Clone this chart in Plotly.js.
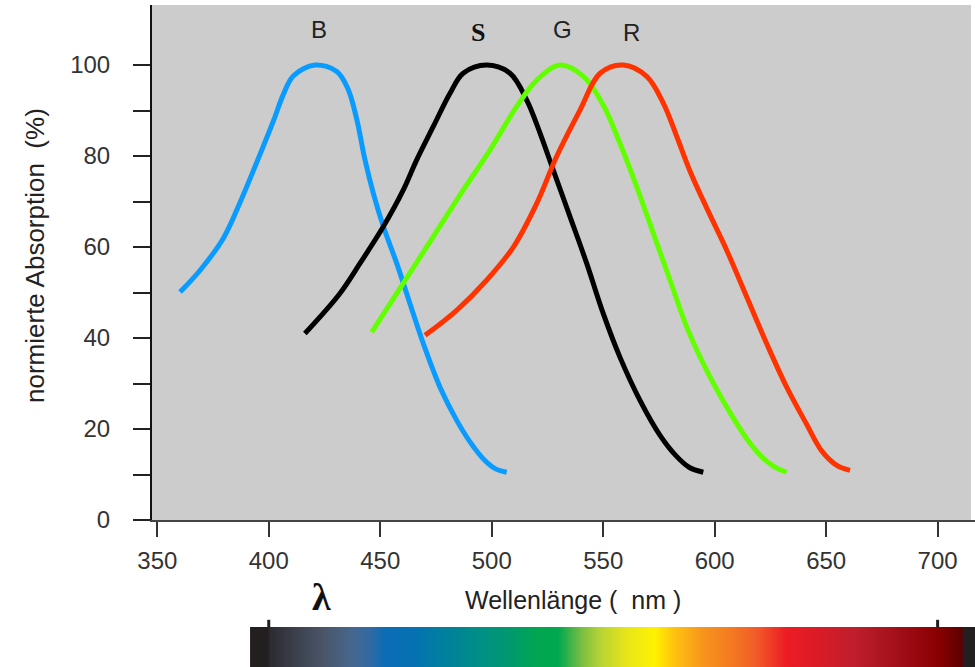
<!DOCTYPE html>
<html>
<head>
<meta charset="utf-8">
<script src="https://cdn.plot.ly/plotly-3.0.1.min.js"></script>
<style>html,body{margin:0;padding:0;background:#fff;}#chart{width:975px;height:667px;}</style>
</head>
<body>
<div id="chart"></div>
<script>
// ---- Data ----
const blueNm  = [360.2, 369.2, 379.7, 387.1, 394.6, 402.0, 406.5, 411.0, 420.7, 430.5, 435.5, 439.5, 443.0, 446.9, 451.4, 457.4, 463.3, 469.3, 476.8, 484.3, 490.5, 496.5, 501.5, 506.7];
const blueVal = [50.1, 54.9, 62.0, 69.8, 78.6, 87.6, 93.5, 97.6, 100.0, 98.6, 94.8, 88.0, 79.5, 71.8, 64.5, 56.4, 47.6, 38.8, 29.2, 21.9, 17.0, 13.3, 11.3, 10.5];

const blackNm  = [416.2, 431.9, 440.9, 451.4, 460.3, 466.3, 473.8, 481.3, 487.2, 497.7, 508.2, 515.7, 521.7, 527.6, 535.1, 542.6, 550.0, 557.5, 566.5, 575.5, 582.5, 588.5, 594.9];
const blackVal = [41.0, 49.8, 56.4, 64.5, 72.5, 79.1, 86.5, 93.8, 98.2, 100.0, 98.2, 92.3, 85.0, 76.9, 66.7, 56.4, 45.4, 35.8, 26.3, 18.6, 14.2, 11.6, 10.5];

const greenNm  = [446.2, 460.3, 473.8, 487.2, 499.2, 511.2, 520.2, 530.6, 541.1, 550.0, 557.5, 565.0, 572.5, 580.0, 587.5, 596.4, 606.9, 614.5, 620.5, 626.5, 632.3];
const greenVal = [41.3, 52.0, 62.3, 72.5, 81.3, 90.9, 96.7, 100.0, 97.5, 91.2, 82.8, 73.3, 63.0, 52.7, 42.4, 32.9, 23.6, 17.8, 14.2, 11.8, 10.5];

const redNm  = [470.1, 484.3, 497.7, 509.7, 520.2, 529.1, 539.6, 548.6, 559.0, 569.5, 577.0, 583.0, 589.0, 596.4, 605.4, 614.4, 623.3, 632.3, 641.3, 648.0, 654.8, 660.7];
const redVal = [40.6, 46.1, 52.7, 60.0, 69.6, 79.9, 90.1, 98.2, 100.0, 97.5, 91.6, 84.3, 76.6, 68.6, 59.3, 49.0, 38.8, 29.2, 21.0, 15.2, 12.0, 10.9];

const curveLabels = ['B', 'S', 'G', 'R'];
const xTickVals = [350, 400, 450, 500, 550, 600, 650, 700];
const yTickVals = [0, 10, 20, 30, 40, 50, 60, 70, 80, 90, 100];
const yTickText = ['0', '', '20', '', '40', '', '60', '', '80', '', '100'];

// spectrum strip below the axis (wavelength -> colour)
const spectrumNm = [391.6, 399.5, 400.5, 412, 425, 438, 446, 452, 465, 478, 495, 510, 520, 530, 540, 548, 560, 573, 582, 595, 607, 619, 632, 645, 663, 684, 700, 711, 711.5, 716.8];
const spectrumColors = ['#231f20', '#231f20', '#2b2a30', '#3c404c', '#4b5669', '#456890', '#2f6aa3', '#0b6db6', '#0671b2', '#007f9f', '#008f86', '#009b6a', '#00a651', '#00a84f', '#76bd43', '#b3d235', '#e6e51a', '#fff200', '#fec20e', '#f7941d', '#f47b20', '#f15a29', '#ed1c24', '#dc1b26', '#be1e2d', '#a00d16', '#8a0000', '#5e0000', '#231f20', '#231f20'];
const spectrumTicks = [400, 700];

// ---- Build ----
const sMin = spectrumNm[0], sMax = spectrumNm[spectrumNm.length - 1];
const spectrumScale = spectrumNm.map((v, i) => [(v - sMin) / (sMax - sMin), spectrumColors[i]]);

function curve(x, y, color) {
  return {x: x, y: y, type: 'scatter', mode: 'lines',
          line: {color: color, width: 5, shape: 'spline', smoothing: 1},
          hoverinfo: 'skip', showlegend: false, xaxis: 'x', yaxis: 'y'};
}

const traces = [
  curve(blueNm, blueVal, '#0a9bff'),
  curve(blackNm, blackVal, '#000000'),
  curve(greenNm, greenVal, '#62ff00'),
  curve(redNm, redVal, '#ff3300'),
  {
    x: [sMin, sMax, sMax, sMin, sMin], y: [0, 0, 1, 1, 0],
    type: 'scatter', mode: 'lines', fill: 'toself',
    line: {width: 0, color: 'rgba(0,0,0,0)'},
    fillgradient: {type: 'horizontal', colorscale: spectrumScale},
    hoverinfo: 'skip', showlegend: false, xaxis: 'x', yaxis: 'y2'
  }
];

const W = 975, H = 667, ML = 152, MR = 0, MT = 5, MB = 0;
const pw = W - ML - MR, ph = H - MT - MB;
const px = v => (v - ML) / pw;
const py = v => (H - MB - v) / ph;

const labelPos = [[319, 30], [478, 33], [562, 30], [631, 32]];
const labelFonts = [
  {family: 'Liberation Sans, Arial, sans-serif', size: 24, color: '#222'},
  {family: 'Liberation Serif, Times New Roman, serif', size: 26, color: '#111', weight: 'bold'},
  {family: 'Liberation Sans, Arial, sans-serif', size: 24, color: '#222'},
  {family: 'Liberation Sans, Arial, sans-serif', size: 24, color: '#222'}
];

const annotations = curveLabels.map((t, i) => ({
  text: t, xref: 'paper', yref: 'paper', x: px(labelPos[i][0]), y: py(labelPos[i][1]),
  xanchor: 'center', yanchor: 'middle', showarrow: false, font: labelFonts[i]
}));
annotations.push({
  text: 'normierte Absorption\u00a0\u00a0(%)', xref: 'paper', yref: 'paper',
  x: px(35), y: py(256), xanchor: 'center', yanchor: 'middle', textangle: -90,
  showarrow: false, font: {family: 'Liberation Sans, Arial, sans-serif', size: 26, color: '#222'}
});
annotations.push({
  text: 'Wellenlänge (\u00a0\u00a0nm )', xref: 'paper', yref: 'paper',
  x: px(573), y: py(600), xanchor: 'center', yanchor: 'middle',
  showarrow: false, font: {family: 'Liberation Sans, Arial, sans-serif', size: 25, color: '#222'}
});
annotations.push({
  text: 'λ', xref: 'paper', yref: 'paper',
  x: px(321), y: py(597), xanchor: 'center', yanchor: 'middle',
  showarrow: false, font: {family: 'Liberation Serif, DejaVu Serif, serif', size: 38, color: '#111', weight: 'bold'}
});

const shapes = [
  {type: 'rect', xref: 'paper', yref: 'y domain', x0: 0, x1: px(971), y0: 0, y1: 1,
   fillcolor: '#cccccc', line: {width: 0}, layer: 'below'}
].concat(spectrumTicks.map(v => ({
  type: 'line', xref: 'x', yref: 'y2 domain', x0: v, x1: v, y0: 1, y1: 1.18,
  line: {color: '#231f20', width: 3}
})));

const xStart = 350 - (157.3 - ML) / 2.2295;
const xEnd = xStart + pw / 2.2295;

const layout = {
  width: W, height: H,
  margin: {l: ML, r: MR, t: MT, b: MB, pad: 0},
  paper_bgcolor: '#ffffff', plot_bgcolor: 'rgba(0,0,0,0)',
  showlegend: false,
  xaxis: {
    range: [xStart, xEnd], anchor: 'y', tickmode: 'array', tickvals: xTickVals,
    ticks: 'outside', ticklen: 15, tickwidth: 2, tickcolor: '#333',
    showline: true, linecolor: '#444', linewidth: 2, showgrid: false, zeroline: false,
    ticklabelstandoff: 3,
    tickfont: {family: 'Liberation Sans, Arial, sans-serif', size: 24, color: '#333'}
  },
  yaxis: {
    domain: [py(520), 1], range: [0, 113.2], tickmode: 'array', tickvals: yTickVals, ticktext: yTickText,
    ticks: 'outside', ticklen: 17, tickwidth: 2, tickcolor: '#222',
    showline: true, linecolor: '#111', linewidth: 2, showgrid: false, zeroline: false,
    ticklabelstandoff: 18,
    tickfont: {family: 'Liberation Sans, Arial, sans-serif', size: 24, color: '#333'}
  },
  yaxis2: {
    domain: [0, py(627)], range: [0, 1], visible: false, fixedrange: true
  },
  shapes: shapes,
  annotations: annotations
};

Plotly.newPlot('chart', traces, layout, {staticPlot: true, displayModeBar: false});
</script>
</body>
</html>
